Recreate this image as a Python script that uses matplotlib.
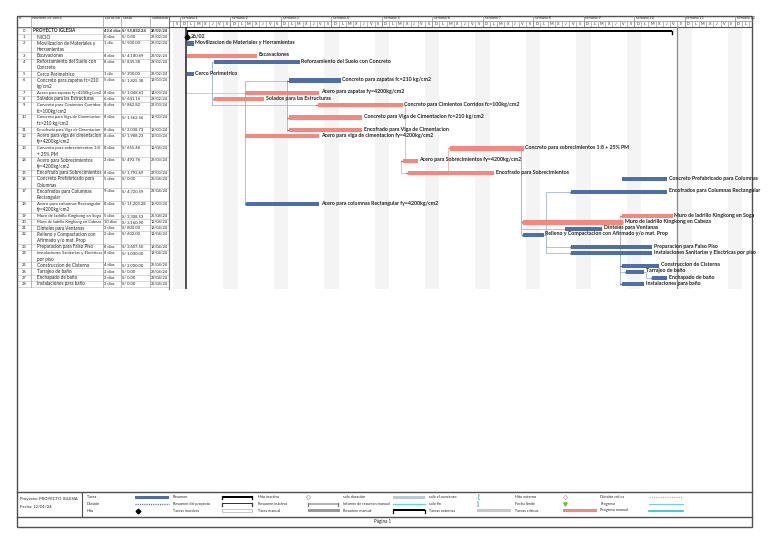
import matplotlib
matplotlib.use('Agg')
import matplotlib.pyplot as plt
from matplotlib.patches import Rectangle

# ---------------- data ----------------
ids = list(range(29))
names = [
    "PROYECTO IGLESIA",
    "INICIO",
    "Movilizacion de Materiales y\nHerramientas",
    "Excavaciones",
    "Reforzamiento del Suelo con\nConcreto",
    "Cerco Perimetrico",
    "Concreto para zapatas fc=210\nkg/cm2",
    "Acero para zapatas fy=4200kg/cm2",
    "Solados para las Estructuras",
    "Concreto para Cimientos Corridos\nfc=100kg/cm2",
    "Concreto para Viga de Cimentacion\nfc=210 kg/cm2",
    "Encofrado para Viga de Cimentacion",
    "Acero para viga de cimentacion\nfy=4200kg/cm2",
    "Concreto para sobrecimientos 1:8\n+ 25% PM",
    "Acero para Sobrecimientos\nfy=4200kg/cm2",
    "Encofrado para Sobrecimientos",
    "Concreto Prefabricado para\nColumnas",
    "Encofrados para Columnas\nRectangular",
    "Acero para columnas Rectangular\nfy=4200kg/cm2",
    "Muro de ladrillo Kingkong en Soga",
    "Muro de ladrillo Kingkong en Cabeza",
    "Dinteles para Ventanas",
    "Relleno y Compactacion con\nAfirmado y/o mat. Prop",
    "Preparacion para Falso Piso",
    "Instalaciones Sanitarias y Electricas\npor piso",
    "Construccion de Cisterna",
    "Tarrajeo de baño",
    "Enchapado de baño",
    "Instalaciones para baño",
]
durations = ["43.6 días", "0 días", "1 día", "8 días", "8 días", "1 día", "5 días",
             "8 días", "6 días", "8 días", "8 días", "8 días", "8 días", "8 días",
             "2 días", "8 días", "5 días", "9 días", "8 días", "5 días", "10 días",
             "3 días", "2 días", "8 días", "8 días", "4 días", "2 días", "2 días",
             "3 días"]
costs = ["S/ 55,832.24", "S/ 0.00", "S/ 500.00", "S/ 4,180.69", "S/ 835.38",
         "S/ 300.00", "S/ 1,825.38", "S/ 1,048.61", "S/ 641.16", "S/ 862.82",
         "S/ 1,562.56", "S/ 2,038.73", "S/ 1,988.23", "S/ 655.46", "S/ 492.76",
         "S/ 1,792.69", "S/ 0.00", "S/ 4,720.59", "S/ 11,203.28", "S/ 3,308.53",
         "S/ 3,160.90", "S/ 800.00", "S/ 602.00", "S/ 3,607.50", "S/ 1,000.00",
         "S/ 2,000.00", "S/ 0.00", "S/ 0.00", "S/ 0.00"]
starts = ["26/02/24", "26/02/24", "26/02/24", "26/02/24", "29/02/24", "26/02/24",
          "18/03/24", "14/03/24", "29/02/24", "23/03/24", "18/03/24", "18/03/24",
          "13/03/24", "12/04/24", "26/03/24", "27/03/24", "25/04/24", "29/04/24",
          "13/03/24", "25/04/24", "12/04/24", "18/04/24", "12/04/24", "18/04/24",
          "18/04/24", "25/04/24", "26/04/24", "29/04/24", "25/04/24"]
# bar start / end in days counted from the Sunday that opens "semana 1"
bar_start = [1.0, 1.0, 1.0, 1.0, 4.7, 1.0, 15.1, 9.2, 4.7, 19.1, 15.1, 15.1, 9.2,
             37.5, 30.9, 31.6, 61.3, 54.3, 9.2, 61.3, 47.6, 53.4, 47.6, 54.3, 54.3,
             61.3, 61.9, 65.5, 61.3]
bar_end = [68.3, 1.0, 1.95, 10.7, 16.65, 1.95, 22.3, 19.3, 11.7, 30.9, 25.3, 25.3,
           19.3, 47.7, 33.0, 43.6, 67.6, 67.6, 19.3, 68.4, 61.5, 58.6, 50.5, 65.5,
           65.5, 66.5, 64.4, 67.6, 64.4]
critical = [False, False, False, True, False, False, False, True, True, True, True,
            True, True, True, True, True, False, False, False, True, True, False,
            False, False, False, False, False, False, False]
milestone_label = "26/02"
# dependency links: (type, predecessor, successor)
links = [("SS", 3, 7), ("SS", 4, 8), ("SS", 4, 9), ("SS", 7, 6), ("SS", 7, 12),
         ("SS", 7, 18), ("SS", 6, 10), ("SS", 6, 11), ("FS", 9, 14), ("SS", 14, 15),
         ("FS", 15, 13), ("FS", 13, 20), ("FS", 13, 22), ("FS", 22, 17),
         ("FS", 22, 23), ("FS", 22, 24), ("FS", 20, 19), ("FS", 20, 25),
         ("FS", 20, 28), ("SS", 25, 26), ("FS", 26, 27), ("FS", 21, 20)]
week_labels = ["semana %d" % k for k in range(1, 13)]
day_letters = ["D", "L", "M", "X", "J", "V", "S"]
project_line_day = 0.83
status_line_day = 68.96

legend_cols = [
    ["Tarea", "División", "Hito"],
    ["Resumen", "Resumen del proyecto", "Tareas inactivas"],
    ["Hito inactivo", "Resumen inactivo", "Tarea manual"],
    ["solo duración", "Informe de resumen manual", "Resumen manual"],
    ["solo el comienzo", "solo fin", "Tareas externas"],
    ["Hito externo", "Fecha límite", "Tareas críticas"],
    ["División crítica", "Progreso", "Progreso manual"],
]
project_info = ["Proyecto: PROYECTO IGLESIA", "Fecha: 12/01/24"]
page_label = "Página 1"

# ---------------- style / layout ----------------
FONT = "Lato"
plt.rcParams['font.family'] = [FONT, 'DejaVu Sans']
BLUE = "#4d6ea8"
RED = "#f5877f"
GRID = "#c8c8c8"
FRAME = "#505050"
TXT = "#222222"

W, H = 768, 543
fig = plt.figure(figsize=(W / 100, H / 100), dpi=100)
base = fig.add_axes([0, 0, 1, 1])
base.set_xlim(0, W)
base.set_ylim(H, 0)
base.axis('off')

LEFT, RIGHT = 17, 752
TOP, BOTTOM = 15.5, 527
HDR_MID, HDR_BOT = 20.8, 26.8
ROW0 = 27.8
LINE_H = 6.17
col_x = [17, 31, 103, 121, 150, 168.5]
TS = 3.3   # table name font size
VS = 2.95  # table value font size
LS = 3.8   # gantt label size

nlines = [n.count("\n") + 1 for n in names]
row_top = []
y = ROW0
for n in nlines:
    row_top.append(y)
    y += n * LINE_H
TABLE_BOT = y
GANTT_BOT = TABLE_BOT + 2.5
bar_y = [t + LINE_H / 2 + 0.3 for t in row_top]

# outer frame
base.add_patch(Rectangle((LEFT, TOP), RIGHT - LEFT, BOTTOM - TOP, fill=False,
                         ec=FRAME, lw=1.0, zorder=5))
# table grid
for t in row_top + [TABLE_BOT]:
    base.plot([col_x[0], col_x[-1]], [t, t], color=GRID, lw=0.5, zorder=2)
base.plot([col_x[0], col_x[-1]], [HDR_BOT, HDR_BOT], color="#777777", lw=0.7)
for cx in col_x:
    base.plot([cx, cx], [TOP, TABLE_BOT], color="#9a9a9a", lw=0.5, zorder=2)
base.plot([col_x[-1], col_x[-1]], [TOP, GANTT_BOT], color="#777777", lw=0.8)

headers = ["Id", "Nombre de tarea", "Duración", "Costo", "Comienzo"]
for i, h in enumerate(headers):
    base.text(col_x[i] + 1.5, TOP + 2.6, h, fontsize=2.9, color=TXT,
              va='center', ha='left')

fit_list = []  # (text, right limit in px)
for i in range(len(names)):
    t = row_top[i]
    bold = 'bold' if i == 0 else 'normal'
    base.text((col_x[0] + col_x[1]) / 2, t + LINE_H / 2, str(ids[i]), fontsize=VS,
              ha='center', va='center', color=TXT)
    indent = 2 if i == 0 else 6
    for j, ln in enumerate(names[i].split("\n")):
        tx = base.text(col_x[1] + indent, t + (j + 0.5) * LINE_H, ln, fontsize=TS,
                       ha='left', va='center', color=TXT, weight=bold)
        fit_list.append((tx, col_x[2] - 0.6))
    for c, txt in ((2, durations[i]), (3, costs[i]), (4, starts[i])):
        tx = base.text(col_x[c] + 0.8, t + LINE_H / 2, txt, fontsize=VS, ha='left',
                       va='center', color=TXT, weight=bold)
        fit_list.append((tx, col_x[c + 1] - 0.5))

# shrink any cell text that would run past its column
renderer = fig.canvas.get_renderer()
for tx, lim in fit_list:
    bb = tx.get_window_extent(renderer)
    x_left = bb.x0
    if bb.x1 > lim:
        tx.set_fontsize(tx.get_fontsize() * (lim - x_left) / (bb.x1 - x_left))

# ---------------- gantt ----------------
G0, G1 = 169, RIGHT
DAYPX = 50.45 / 7
X0PX = 180
d_left = (G0 - X0PX) / DAYPX
d_right = (G1 - X0PX) / DAYPX
ax = fig.add_axes([G0 / W, 1 - GANTT_BOT / H, (G1 - G0) / W, (GANTT_BOT - HDR_BOT) / H])
ax.set_xlim(d_left, d_right)
ax.set_ylim(GANTT_BOT, HDR_BOT)
ax.axis('off')

for d in range(-3, 82):
    if d % 7 in (0, 6):
        ax.axvspan(d, d + 1, color="#f4f4f4", lw=0, zorder=0)

# header
for k, wl in enumerate(week_labels):
    d = 7 * k
    ax.plot([d, d], [TOP, HDR_BOT], color="#8a8a8a", lw=0.5, clip_on=False)
    if d + 0.2 < d_right:
        ax.text(d + 0.25, (TOP + HDR_MID) / 2, wl, fontsize=2.7, color=TXT,
                ha='left', va='center', clip_on=False)
for d in range(-2, 82):
    if d >= d_left - 0.01 and d <= d_right:
        ax.plot([d, d], [HDR_MID, HDR_BOT], color="#8a8a8a", lw=0.4, clip_on=False)
    if d >= d_left and d + 1 <= d_right + 0.3:
        ax.text(d + 0.5, (HDR_MID + HDR_BOT) / 2, day_letters[d % 7], fontsize=2.7,
                color=TXT, ha='center', va='center', clip_on=False)
ax.plot([d_left, d_right], [HDR_MID, HDR_MID], color="#8a8a8a", lw=0.5, clip_on=False)
ax.plot([d_left, d_right], [HDR_BOT, HDR_BOT], color="#555555", lw=0.8, clip_on=False)

# vertical reference lines
ax.axvline(project_line_day, color="#222222", lw=1.1, zorder=3)
ax.axvline(status_line_day, color="#8c8c8c", lw=0.9, zorder=3)

# links
def link_path(kind, p, s):
    yp, ys = bar_y[p], bar_y[s]
    if kind == "SS":
        xf = bar_start[p]
        xv = min(bar_start[p], bar_start[s]) - 0.25
    else:
        xf = bar_end[p]
        if bar_start[s] >= bar_end[p]:
            xv = bar_end[p] + 0.25
        else:
            xv = bar_start[s] - 0.25
    return [xf, xv, xv, bar_start[s]], [yp, yp, ys, ys]

for kind, p, s in links:
    xs, ys = link_path(kind, p, s)
    col = "#f7b0ac" if (critical[p] and critical[s]) else "#a7b6d4"
    ax.plot(xs, ys, color=col, lw=0.6, zorder=2, solid_joinstyle='miter')
    ax.plot(bar_start[s] - 0.05, bar_y[s], marker='>', ms=1.6,
            color="#e0524c" if critical[s] else "#3e5f9c", mew=0, zorder=4)

# bars
for i in range(len(names)):
    if i == 0:
        ax.barh(bar_y[i], bar_end[i] - bar_start[i], left=bar_start[i], height=1.6,
                color="black", zorder=4)
        for xe in (bar_start[i], bar_end[i]):
            ax.plot([xe, xe], [bar_y[i], bar_y[i] + 3], color="black", lw=1.0, zorder=4)
        continue
    if i == 1:
        ax.plot(bar_start[i], bar_y[i], marker='D', ms=2.6, color="black", zorder=5)
        ax.text(bar_start[i] + 0.5, bar_y[i] - 1.5, milestone_label, fontsize=LS,
                weight='bold', color=TXT, ha='left', va='center', zorder=6)
        continue
    col = RED if critical[i] else BLUE
    ax.barh(bar_y[i], bar_end[i] - bar_start[i], left=bar_start[i], height=4.2,
            color=col, lw=0, zorder=4)
    ax.text(bar_end[i] + 0.2, bar_y[i] - 0.9, names[i].replace("\n", " "),
            fontsize=LS, weight='bold', color=TXT, ha='left', va='center',
            zorder=6, clip_on=False)

# ---------------- legend / footer ----------------
LG_TOP, LG_BOT = 491.7, 516.7
base.plot([LEFT, RIGHT], [LG_TOP, LG_TOP], color=FRAME, lw=1.0)
base.plot([LEFT, RIGHT], [LG_BOT, LG_BOT], color=FRAME, lw=1.0)
base.plot([81.7, 81.7], [LG_TOP, LG_BOT], color=FRAME, lw=0.8)
for j, s in enumerate(project_info):
    base.text(19.5, 499 + j * 7.5, s, fontsize=3.1, color=TXT, ha='left', va='center')
base.text(383, 521.8, page_label, fontsize=3.3, color=TXT, ha='center', va='center')

lab_x = [87, 173, 258.5, 343, 429, 515, 600.5]
row_y = [497.2, 503.8, 510.5]
for c, labels in enumerate(legend_cols):
    for r, lab in enumerate(labels):
        base.text(lab_x[c], row_y[r], lab, fontsize=2.7, color=TXT, ha='left', va='center')

def lbar(x0, x1, yy, h, fc, ec='none', lw=0):
    base.add_patch(Rectangle((x0, yy - h / 2), x1 - x0, h, fc=fc, ec=ec, lw=lw))

def bracket(x0, x1, yy, color="black", filled=True):
    if filled:
        lbar(x0, x1, yy - 0.5, 1.6, color)
    else:
        lbar(x0, x1, yy - 0.5, 1.6, "white", ec=color, lw=0.4)
    base.plot([x0 + 0.4, x0 + 0.4], [yy - 1, yy + 2], color=color, lw=0.9)
    base.plot([x1 - 0.4, x1 - 0.4], [yy - 1, yy + 2], color=color, lw=0.9)

y0, y1, y2 = row_y
lbar(135, 169, y0, 3.0, BLUE)
base.plot([135, 169], [y1, y1], color=BLUE, lw=1.0, ls=(0, (0.8, 0.8)))
base.plot(138, y2, marker='D', ms=2.4, color='black')
bracket(222, 252, y0)
bracket(222, 252, y1, color="#333333")
lbar(222, 252, y2, 2.6, "white", ec="#b0b0b0", lw=0.5)
base.plot(308, y0, marker='D', ms=2.4, mfc='white', mec='#999999', mew=0.4)
bracket(308, 338, y1, color="#777777", filled=False)
lbar(308, 340, y2, 2.8, "#9a9a9a")
lbar(393, 425, y0, 3.0, "#b9c9d6")
base.plot([393, 425], [y1, y1], color="#62d3e0", lw=1.0)
bracket(393, 425, y2)
base.text(478, y0, "[", fontsize=4.5, weight='bold', color="#17868c", ha='center', va='center')
base.text(478, y1, "]", fontsize=4.5, weight='bold', color="#17868c", ha='center', va='center')
lbar(477, 511, y2, 3.0, "#c8c8c8")
base.plot(565, y0, marker='D', ms=2.2, mfc='white', mec='#999999', mew=0.4)
base.plot(565, y1, marker='v', ms=2.4, color='#6cbf3c')
lbar(563, 597, y2, 3.2, RED)
base.plot([649, 683], [y0, y0], color="#f08a86", lw=0.9, ls=(0, (0.8, 1.0)))
base.plot([649, 683], [y1, y1], color="#55c6e6", lw=0.6)
base.plot([649, 683], [y2, y2], color="#25c2c6", lw=1.2)

fig.savefig("out.png", dpi=100)
